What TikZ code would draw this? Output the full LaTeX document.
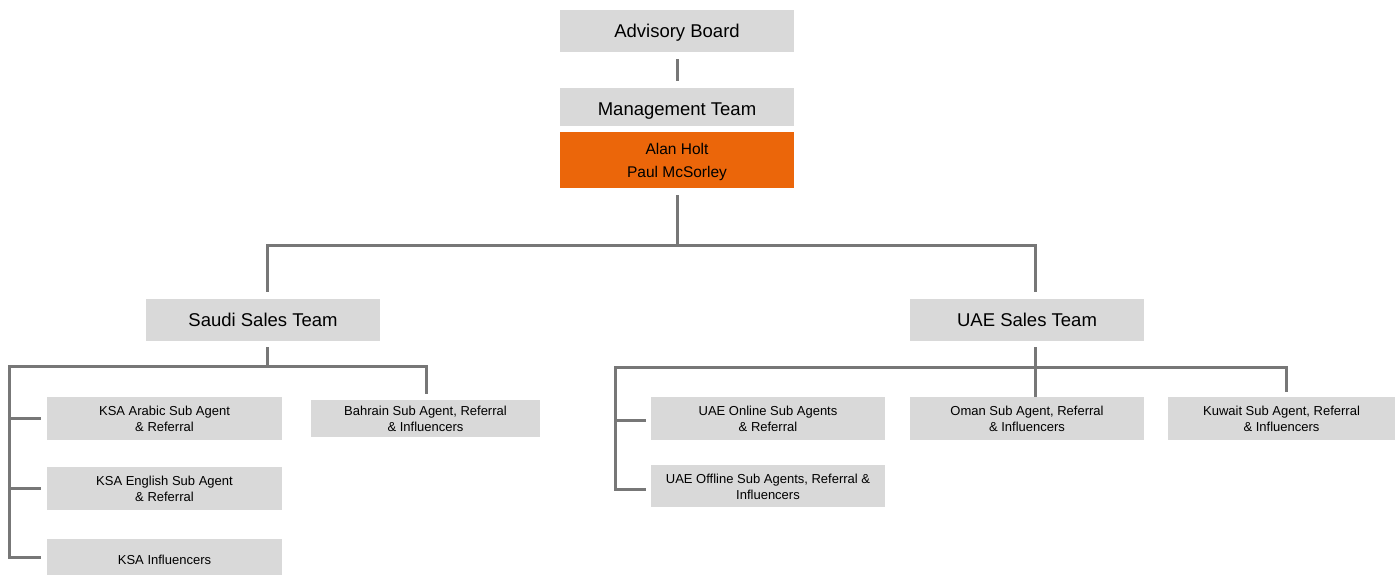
\documentclass[tikz,border=0pt]{standalone}
\usepackage{fontspec}
\setmainfont{Liberation Sans}
% invisible strut that pushes a node's first line down
\newcommand\txtlift[1]{\rule{0pt}{#1}}
\begin{document}
\definecolor{boxgray}{HTML}{D9D9D9}
\definecolor{linegray}{HTML}{777777}
\definecolor{leadorange}{HTML}{EB660A}
\begin{tikzpicture}[x=1pt,y=-1pt,
  box/.style={rectangle, fill=boxgray, inner sep=0pt, align=center, text=black},
  bigbox/.style={box, minimum width=234pt, font=\fontsize{18.5}{22}\selectfont},
  smallbox/.style={box, font=\fontsize{13}{16}\selectfont},
  conn/.style={draw=linegray, line width=3pt}]
\useasboundingbox (0,0) rectangle (1395,575);

% top of the chart
\node[bigbox, minimum height=42pt] (adv) at (677,31) {\txtlift{17.3pt}Advisory Board};
\node[bigbox, minimum height=38pt] (mgmt) at (677,107) {\txtlift{21.5pt}Management Team};
\node[box, fill=leadorange, minimum width=234pt, minimum height=56pt,
      font=\fontsize{15.5}{23}\selectfont] (lead) at (677,160) {\txtlift{15.3pt}Alan Holt\\Paul McSorley};

% regional sales teams
\node[bigbox, minimum height=42pt] (saudi) at (263,320) {Saudi Sales Team};
\node[bigbox, minimum height=42pt] (uae) at (1027,320) {UAE Sales Team};

% Saudi branch
\node[smallbox, minimum width=235pt, minimum height=43pt] (ksaa) at (164.5,418.5) {KSA Arabic Sub Agent\\\& Referral};
\node[smallbox, minimum width=235pt, minimum height=43pt] (ksae) at (164.5,488.5) {KSA English Sub Agent\\\& Referral};
\node[smallbox, minimum width=235pt, minimum height=36pt] (ksai) at (164.5,557) {\txtlift{15.4pt}KSA Influencers};
\node[smallbox, minimum width=229pt, minimum height=37pt] (bah) at (425.5,418.5) {Bahrain Sub Agent, Referral\\\& Influencers};

% UAE branch
\node[smallbox, minimum width=234pt, minimum height=43pt] (uon) at (768,418.5) {UAE Online Sub Agents\\\& Referral};
\node[smallbox, minimum width=234pt, minimum height=42pt] (uoff) at (768,486) {\txtlift{11pt}UAE Offline Sub Agents, Referral \&\\Influencers};
\node[smallbox, minimum width=234pt, minimum height=43pt] (oman) at (1027,418.5) {Oman Sub Agent, Referral\\\& Influencers};
\node[smallbox, minimum width=227pt, minimum height=43pt] (kuw) at (1281.5,418.5) {Kuwait Sub Agent, Referral\\\& Influencers};

% bus junctions
\coordinate (topbus) at (677,245);
\coordinate (sbus) at (267,366);
\coordinate (sleft) at (9,366);
\coordinate (ubus) at (1035,367);
\coordinate (uleft) at (615,367);

% connectors
\draw[conn] ([yshift=-7pt]adv.south) -- ([yshift=7pt]mgmt.north);
\draw[conn] ([yshift=-7pt]lead.south) -- (topbus);
\draw[conn] ([xshift=4pt,yshift=7pt]saudi.north) |- (topbus) -| ([xshift=8pt,yshift=7pt]uae.north);

\draw[conn] ([xshift=4pt,yshift=-6pt]saudi.south) -- (sbus);
\draw[conn] ([xshift=-6pt]ksai.west) -| (sleft) -| ([xshift=0.5pt,yshift=6pt]bah.north);
\draw[conn] ([xshift=-6pt]ksaa.west) -- (ksaa.west -| sleft);
\draw[conn] ([xshift=-6pt]ksae.west) -- (ksae.west -| sleft);

\draw[conn] ([xshift=8pt,yshift=-6pt]uae.south) -- ([xshift=8pt]oman.north);
\draw[conn] ([xshift=-5pt,yshift=-3pt]uoff.west) -| (uleft) -| ([xshift=4.5pt,yshift=5pt]kuw.north);
\draw[conn] ([xshift=-5pt,yshift=-2pt]uon.west) -- ([yshift=-2pt]uon.west -| uleft);
\end{tikzpicture}
\end{document}
